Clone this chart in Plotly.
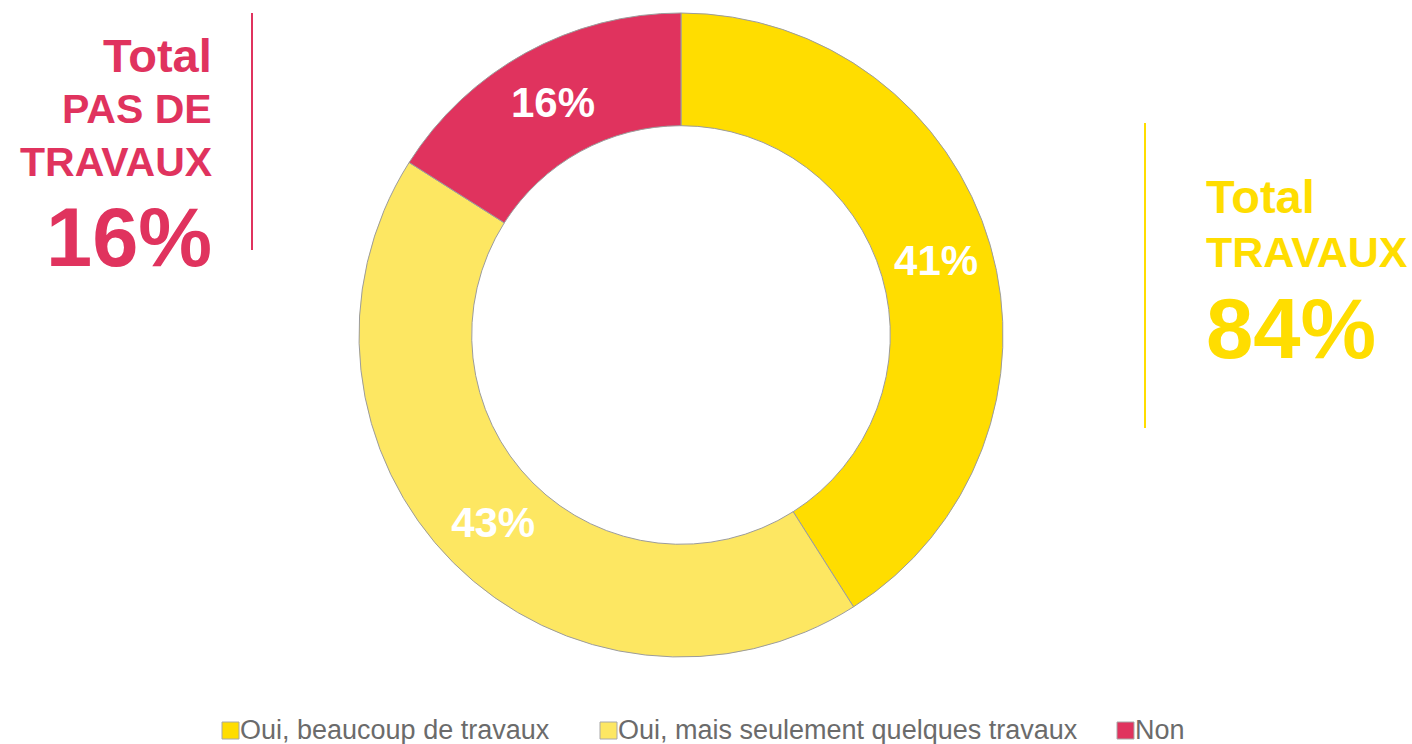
import plotly.graph_objects as go

# --- data -----------------------------------------------------------------
categories = ["Oui, beaucoup de travaux", "Oui, mais seulement quelques travaux", "Non"]
values = [41, 43, 16]
colors = ["#FFDD00", "#FDE762", "#E0335E"]

total_no_label = ["Total", "PAS DE", "TRAVAUX"]
total_no_value = values[2]
total_yes_label = ["Total", "TRAVAUX"]
total_yes_value = values[0] + values[1]

# --- canvas ----------------------------------------------------------------
W, H = 1412, 744
FONT = "Arial, Liberation Sans, sans-serif"
RED = "#E0335E"
YELLOW = "#FFDD00"


def px(x):
    return x / W


def py(y):
    return 1 - y / H


fig = go.Figure()

fig.add_trace(go.Pie(
    labels=categories,
    values=values,
    sort=False,
    direction="clockwise",
    rotation=0,
    hole=0.65,
    marker=dict(colors=colors, line=dict(color="#9C9C9C", width=1)),
    texttemplate="%{value}%",
    textposition="inside",
    insidetextorientation="horizontal",
    textfont=dict(family=FONT, size=42, color="#FFFFFF", weight="bold"),
    hoverinfo="label+percent",
    showlegend=False,
    domain=dict(x=[px(359), px(1003)], y=[py(657), py(13)]),
))

annotations = []
shapes = []

# left block: total without works
left_lines = [(total_no_label[0], 47, 55.5), (total_no_label[1], 41, 109),
              (total_no_label[2], 41, 162), (f"{total_no_value}%", 83, 237)]
for txt, size, yc in left_lines:
    annotations.append(dict(
        x=px(214), y=py(yc), xref="paper", yref="paper", xanchor="right", yanchor="middle",
        text=txt, showarrow=False, font=dict(family=FONT, size=size, color=RED, weight="bold")))
shapes.append(dict(type="line", xref="paper", yref="paper",
                   x0=px(252), x1=px(252), y0=py(13), y1=py(250),
                   line=dict(color=RED, width=2)))

# right block: total with works
right_lines = [(total_yes_label[0], 47, 196.5), (total_yes_label[1], 43, 252),
               (f"{total_yes_value}%", 85, 328.5)]
for txt, size, yc in right_lines:
    annotations.append(dict(
        x=px(1204), y=py(yc), xref="paper", yref="paper", xanchor="left", yanchor="middle",
        text=txt, showarrow=False, font=dict(family=FONT, size=size, color=YELLOW, weight="bold")))
shapes.append(dict(type="line", xref="paper", yref="paper",
                   x0=px(1145), x1=px(1145), y0=py(123), y1=py(428),
                   line=dict(color=YELLOW, width=2)))

# legend row
legend_x = [222, 600, 1117]
for x0, name, col in zip(legend_x, categories, colors):
    shapes.append(dict(type="rect", xref="paper", yref="paper",
                       x0=px(x0), x1=px(x0 + 17), y0=py(739), y1=py(722),
                       fillcolor=col, line=dict(color="#A8A8A8", width=1)))
    annotations.append(dict(
        x=px(x0 + 16), y=py(730), xref="paper", yref="paper", xanchor="left", yanchor="middle",
        text=name, showarrow=False, font=dict(family=FONT, size=27, color="#6B6B6B")))

fig.update_layout(
    width=W, height=H,
    margin=dict(l=0, r=0, t=0, b=0),
    paper_bgcolor="white",
    plot_bgcolor="white",
    annotations=annotations,
    shapes=shapes,
    showlegend=False,
)

fig.write_html("out.html")
